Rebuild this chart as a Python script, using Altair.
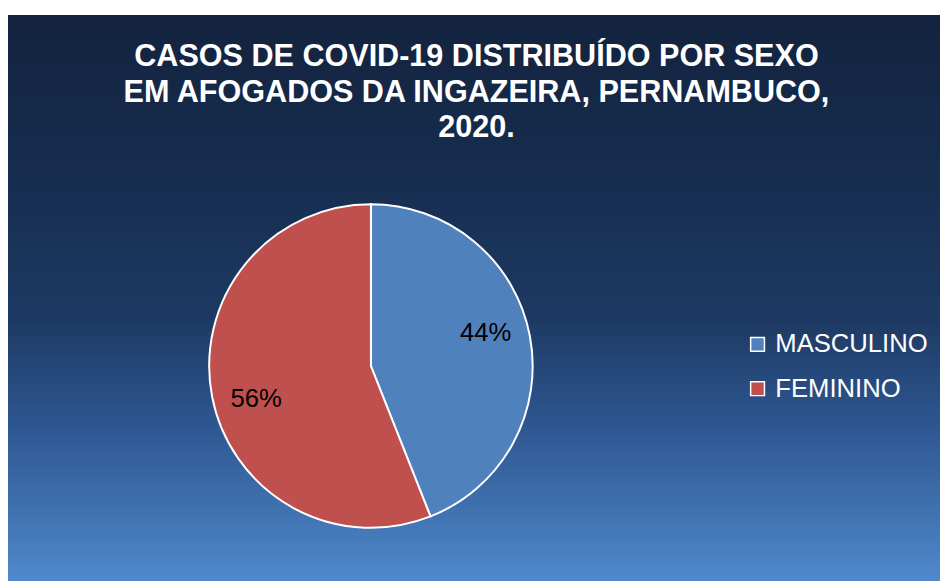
import altair as alt
import pandas as pd

categorias = ["MASCULINO", "FEMININO"]
valores = [44, 56]
rotulos = ["44%", "56%"]
ordem = [0, 1]
cores = ["#4f81bd", "#c0504d"]
titulo = ["CASOS DE COVID-19 DISTRIBUÍDO POR SEXO", "EM AFOGADOS DA INGAZEIRA, PERNAMBUCO,", "2020."]

W, H = 945, 575
CX, CY, R = 368, 356, 164

df = pd.DataFrame({"sexo": categorias, "valor": valores, "rotulo": rotulos, "ordem": ordem})

fundo = alt.Chart(pd.DataFrame({"a": [0]})).mark_rect(
    color=alt.LinearGradient(
        gradient="linear", x1=0, y1=0, x2=0, y2=1,
        stops=[
            alt.GradientStop(color="#13233e", offset=0),
            alt.GradientStop(color="#172f52", offset=0.33),
            alt.GradientStop(color="#1e3a64", offset=0.54),
            alt.GradientStop(color="#2d5690", offset=0.72),
            alt.GradientStop(color="#3e6fad", offset=0.86),
            alt.GradientStop(color="#5089cc", offset=1),
        ],
    )
).encode(x=alt.value(0), x2=alt.value(W), y=alt.value(0), y2=alt.value(H))

pizza = alt.Chart(df).mark_arc(radius=R, stroke="white", strokeWidth=2).encode(
    theta=alt.Theta("valor:Q", stack=True),
    color=alt.Color("sexo:N", scale=alt.Scale(domain=categorias, range=cores),
                    sort=categorias,
                    legend=alt.Legend(title=None, orient="none", legendX=747, legendY=321,
                                      labelColor="white", labelFont="Liberation Sans",
                                      labelFontSize=26, symbolType="square", symbolSize=196,
                                      symbolStrokeColor="white", symbolStrokeWidth=1.5,
                                      symbolOpacity=1, labelOffset=5, rowPadding=19)),
    order=alt.Order("ordem:Q"),
    x=alt.value(CX), y=alt.value(CY),
)

rot = alt.Chart(df).mark_text(font="Liberation Sans", fontSize=26, color="black",
                              thetaOffset=-0.09).encode(
    theta=alt.Theta("valor:Q", stack=True),
    radius=alt.value(121),
    text="rotulo:N",
    detail="sexo:N",
    order=alt.Order("ordem:Q"),
    x=alt.value(CX), y=alt.value(CY),
)

tit = alt.Chart(pd.DataFrame({"t": ["\n".join(titulo)]})).mark_text(
    font="Liberation Sans", fontSize=31, fontWeight="bold", color="white",
    lineBreak="\n", lineHeight=36, align="center", baseline="alphabetic"
).encode(text="t:N", x=alt.value(475), y=alt.value(52))

chart = alt.layer(fundo, pizza, rot, tit).properties(
    width=W, height=H, autosize=alt.AutoSizeParams(type="none"),
    padding={"top": 3, "left": 0, "right": 0, "bottom": 0},
    background="white",
).configure_view(strokeWidth=0)

chart.save("out.html", embed_options={"renderer": "svg", "actions": False})
